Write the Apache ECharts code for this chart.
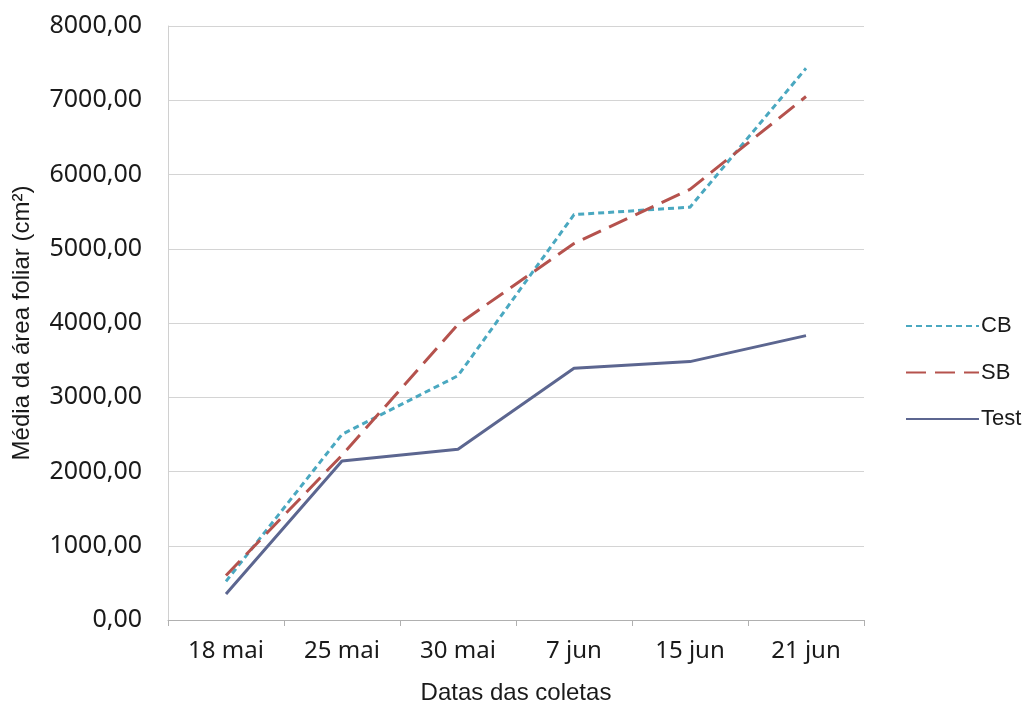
<!DOCTYPE html>
<html>
<head>
<meta charset="utf-8">
<script src="https://cdn.jsdelivr.net/npm/echarts@6/dist/echarts.min.js"></script>
<style>
  html, body { margin: 0; padding: 0; background: #ffffff; }
  #chart { width: 1031px; height: 710px; }
</style>
</head>
<body>
<div id="chart"></div>
<script>
// Coleta dates and mean leaf area (cm²) per treatment
const categories = ['18 mai', '25 mai', '30 mai', '7 jun', '15 jun', '21 jun'];
const cbValues   = [520, 2500, 3290, 5460, 5560, 7430];
const sbValues   = [600, 2220, 3980, 5070, 5800, 7050];
const testValues = [350, 2140, 2300, 3390, 3480, 3830];

const TICK_FONT = '"Noto Sans", "Liberation Sans", sans-serif';
const NAME_FONT = '"Liberation Sans", Arial, sans-serif';
const TEXT = '#1a1a1a';

const chart = echarts.init(document.getElementById('chart'), null, { renderer: 'canvas' });

chart.setOption({
  backgroundColor: '#ffffff',
  animation: false,
  grid: { left: 168, right: 167, top: 26, bottom: 88, containLabel: false },
  legend: {
    orient: 'vertical',
    left: 900,
    top: 310,
    itemWidth: 73,
    itemHeight: 14,
    itemGap: 24.5,
    itemStyle: { opacity: 0 },
    textStyle: { fontFamily: NAME_FONT, fontSize: 22, color: TEXT, padding: [0, 0, 0, -3] },
    data: ['CB', 'SB', 'Test']
  },
  xAxis: {
    type: 'category',
    data: categories,
    boundaryGap: true,
    name: 'Datas das coletas',
    nameLocation: 'middle',
    nameGap: 61,
    nameTextStyle: { fontFamily: NAME_FONT, fontSize: 24, color: TEXT },
    axisLine: { show: true, lineStyle: { color: '#b0b0b0', width: 1 } },
    axisTick: { show: true, length: 6, lineStyle: { color: '#b0b0b0' } },
    axisLabel: { fontFamily: TICK_FONT, fontSize: 24, color: TEXT, margin: 19 }
  },
  yAxis: {
    type: 'value',
    min: 0,
    max: 8000,
    interval: 1000,
    name: 'Média da área foliar (cm²)',
    nameLocation: 'middle',
    nameGap: 134,
    nameTextStyle: { fontFamily: NAME_FONT, fontSize: 24, color: TEXT },
    axisLine: { show: true, lineStyle: { color: '#d0d0d0', width: 1 } },
    axisTick: { show: false },
    splitLine: { show: true, lineStyle: { color: '#d4d4d4', width: 1 } },
    axisLabel: {
      fontFamily: TICK_FONT, fontSize: 25, color: TEXT, margin: 26,
      formatter: v => v.toFixed(2).replace('.', ',')
    }
  },
  series: [
    {
      name: 'CB', type: 'line', data: cbValues, symbol: 'none',
      lineStyle: { color: '#4aa8c0', width: 3, type: [6, 4] },
      itemStyle: { color: '#4aa8c0' }
    },
    {
      name: 'SB', type: 'line', data: sbValues, symbol: 'none',
      lineStyle: { color: '#b5524d', width: 3, type: [20, 9] },
      itemStyle: { color: '#b5524d' }
    },
    {
      name: 'Test', type: 'line', data: testValues, symbol: 'none',
      lineStyle: { color: '#5c6690', width: 3 },
      itemStyle: { color: '#5c6690' }
    }
  ]
});
</script>
</body>
</html>
